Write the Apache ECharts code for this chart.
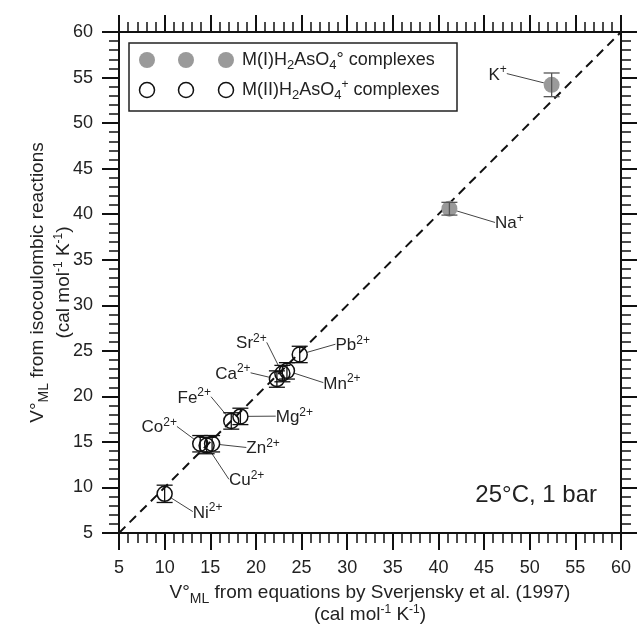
<!DOCTYPE html>
<html>
<head>
<meta charset="utf-8">
<script src="https://cdn.jsdelivr.net/npm/echarts@6/dist/echarts.min.js"></script>
<style>
  html, body { margin: 0; padding: 0; background: #fff; }
  #chart { width: 637px; height: 632px; }
</style>
</head>
<body>
<div id="chart"></div>
<script>
// M(I) complexes (filled grey)
var monoNames = ['K', 'Na']
var monoCharge = ['+', '+']
var monoX = [52.4, 41.2]
var monoY = [54.2, 40.6]
var monoErr = [1.3, 0.7]

// M(II) complexes (open circles)
var diNames = ['Pb', 'Sr', 'Ca', 'Mn', 'Fe', 'Mg', 'Co', 'Cu', 'Zn', 'Ni']
var diX = [24.8, 22.9, 22.3, 23.4, 17.3, 18.3, 13.9, 14.6, 15.2, 10.0]
var diY = [24.6, 22.5, 21.9, 22.8, 17.3, 17.8, 14.8, 14.6, 14.8, 9.3]
var diErr = [0.9, 0.9, 0.9, 0.9, 0.9, 0.9, 0.9, 0.9, 0.9, 0.95]

var oneToOne = [[5, 5], [60, 60]]
var axisMin = 5
var axisMax = 60
var axisStep = 5

// label offsets in pixels (dx, dy) from the marker centre
var monoOffsets = [[-54, -10], [60, 15]]
var diOffsets = [[53, -9], [-31, -30], [-44, -5], [55, 13], [-37, -23], [54, 1], [-41, -16], [40, 35], [51, 5], [43, 19]]

var FONT = '"Liberation Sans", Arial, sans-serif'
var INK = '#222'

function points (xs, ys, names) {
  return xs.map(function (x, i) { return { name: names[i], value: [x, ys[i]] } })
}
function errData (xs, ys, errs) {
  return xs.map(function (x, i) { return [x, ys[i] - errs[i], ys[i] + errs[i]] })
}

function richOf (supSize, subSize) {
  return {
    sup: { fontSize: supSize, fontFamily: FONT, color: INK, padding: [0, 0, supSize - 2, 0] },
    sub: { fontSize: subSize, fontFamily: FONT, color: INK, padding: [subSize - 2, 0, 0, 0] }
  }
}

function axisX (pos, labels) {
  return {
    type: 'value', position: pos, min: axisMin, max: axisMax, interval: axisStep,
    axisLine: { show: true, onZero: false, lineStyle: { color: '#111', width: 2 } },
    axisTick: { show: true, inside: false, length: 17, lineStyle: { color: '#111', width: 2 } },
    minorTick: { show: true, splitNumber: 5, length: 10, lineStyle: { color: '#111', width: 1.5 } },
    splitLine: { show: false },
    minorSplitLine: { show: false },
    axisLabel: { show: labels, fontSize: 18, fontFamily: FONT, color: INK, margin: 26 }
  }
}

var errorBar = function (color) {
  return function (params, api) {
    var top = api.coord([api.value(0), api.value(2)])
    var bot = api.coord([api.value(0), api.value(1)])
    var w = 8
    var style = { stroke: color, lineWidth: 1.3 }
    return {
      type: 'group',
      children: [
        { type: 'line', shape: { x1: top[0], y1: top[1], x2: bot[0], y2: bot[1] }, style: style },
        { type: 'line', shape: { x1: top[0] - w, y1: top[1], x2: top[0] + w, y2: top[1] }, style: style },
        { type: 'line', shape: { x1: bot[0] - w, y1: bot[1], x2: bot[0] + w, y2: bot[1] }, style: style }
      ]
    }
  }
}

function pointLabel (charges) {
  return {
    show: true,
    position: 'inside',
    fontSize: 17,
    fontFamily: FONT,
    color: INK,
    formatter: function (p) { return p.name + '{sup|' + charges[p.dataIndex] + '}' },
    rich: richOf(12, 12)
  }
}

var chart = echarts.init(document.getElementById('chart'))
chart.setOption({
  animation: false,
  grid: { left: 119, right: 16, top: 32, bottom: 99 },
  xAxis: [
    Object.assign(axisX('bottom', true), {
      name: 'V°{sub|ML} from equations by Sverjensky et al. (1997)\n(cal mol{sup|-1} K{sup|-1})',
      nameLocation: 'middle',
      nameGap: 49,
      nameMoveOverlap: false,
      nameTextStyle: { fontSize: 19, fontFamily: FONT, color: INK, lineHeight: 22, rich: richOf(12, 14) }
    }),
    axisX('top', false)
  ],
  yAxis: [
    Object.assign(axisX('left', true), {
      name: 'V°{sub|ML} from isocoulombic reactions\n(cal mol{sup|-1} K{sup|-1})',
      nameLocation: 'middle',
      nameRotate: 90,
      nameGap: 42,
      nameMoveOverlap: false,
      nameTextStyle: { fontSize: 19, fontFamily: FONT, color: INK, lineHeight: 26, rich: richOf(12, 14) }
    }),
    axisX('right', false)
  ],
  series: [
    {
      type: 'line',
      data: oneToOne,
      symbol: 'none',
      silent: true,
      lineStyle: { color: '#111', width: 2, type: [9, 6] },
      z: 1
    },
    {
      type: 'scatter',
      data: points(monoX, monoY, monoNames),
      symbol: 'circle',
      symbolSize: 16,
      itemStyle: { color: '#9a9a9a', opacity: 1 },
      label: pointLabel(monoCharge),
      labelLine: { show: true, lineStyle: { color: '#444', width: 1 } },
      labelLayout: function (p) { return { dx: monoOffsets[p.dataIndex][0], dy: monoOffsets[p.dataIndex][1] } },
      z: 2
    },
    {
      type: 'scatter',
      data: points(diX, diY, diNames),
      symbol: 'circle',
      symbolSize: 15,
      itemStyle: { color: 'rgba(255,255,255,0)', borderColor: '#111', borderWidth: 1.5, opacity: 1 },
      label: pointLabel(diNames.map(function () { return '2+' })),
      labelLine: { show: true, lineStyle: { color: '#444', width: 1 } },
      labelLayout: function (p) { return { dx: diOffsets[p.dataIndex][0], dy: diOffsets[p.dataIndex][1] } },
      z: 2
    },
    {
      type: 'custom',
      data: errData(monoX, monoY, monoErr),
      renderItem: errorBar('#555'),
      encode: { x: 0, y: [1, 2] },
      silent: true,
      z: 3
    },
    {
      type: 'custom',
      data: errData(diX, diY, diErr),
      renderItem: errorBar('#111'),
      encode: { x: 0, y: [1, 2] },
      silent: true,
      z: 3
    }
  ],
  graphic: [
    { type: 'rect', shape: { x: 129, y: 43, width: 328, height: 68 }, style: { fill: '#fff', stroke: '#222', lineWidth: 1.5 }, z: 10 },
    { type: 'circle', shape: { cx: 147, cy: 60, r: 8 }, style: { fill: '#9a9a9a' }, z: 11 },
    { type: 'circle', shape: { cx: 186, cy: 60, r: 8 }, style: { fill: '#9a9a9a' }, z: 11 },
    { type: 'circle', shape: { cx: 226, cy: 60, r: 8 }, style: { fill: '#9a9a9a' }, z: 11 },
    { type: 'circle', shape: { cx: 147, cy: 90, r: 7.5 }, style: { fill: '#fff', stroke: '#111', lineWidth: 1.5 }, z: 11 },
    { type: 'circle', shape: { cx: 186, cy: 90, r: 7.5 }, style: { fill: '#fff', stroke: '#111', lineWidth: 1.5 }, z: 11 },
    { type: 'circle', shape: { cx: 226, cy: 90, r: 7.5 }, style: { fill: '#fff', stroke: '#111', lineWidth: 1.5 }, z: 11 },
    {
      type: 'text', x: 242, y: 60, z: 11,
      style: { text: 'M(I)H{sub|2}AsO{sub|4}° complexes', font: '18px ' + FONT, fill: INK, verticalAlign: 'middle', rich: richOf(12, 13) }
    },
    {
      type: 'text', x: 242, y: 90, z: 11,
      style: { text: 'M(II)H{sub|2}AsO{sub|4}{sup|+} complexes', font: '18px ' + FONT, fill: INK, verticalAlign: 'middle', rich: richOf(12, 13) }
    },
    {
      type: 'text', x: 597, y: 495, z: 11,
      style: { text: '25°C, 1 bar', font: '24px ' + FONT, fill: INK, align: 'right', verticalAlign: 'middle' }
    }
  ]
})
</script>
</body>
</html>
